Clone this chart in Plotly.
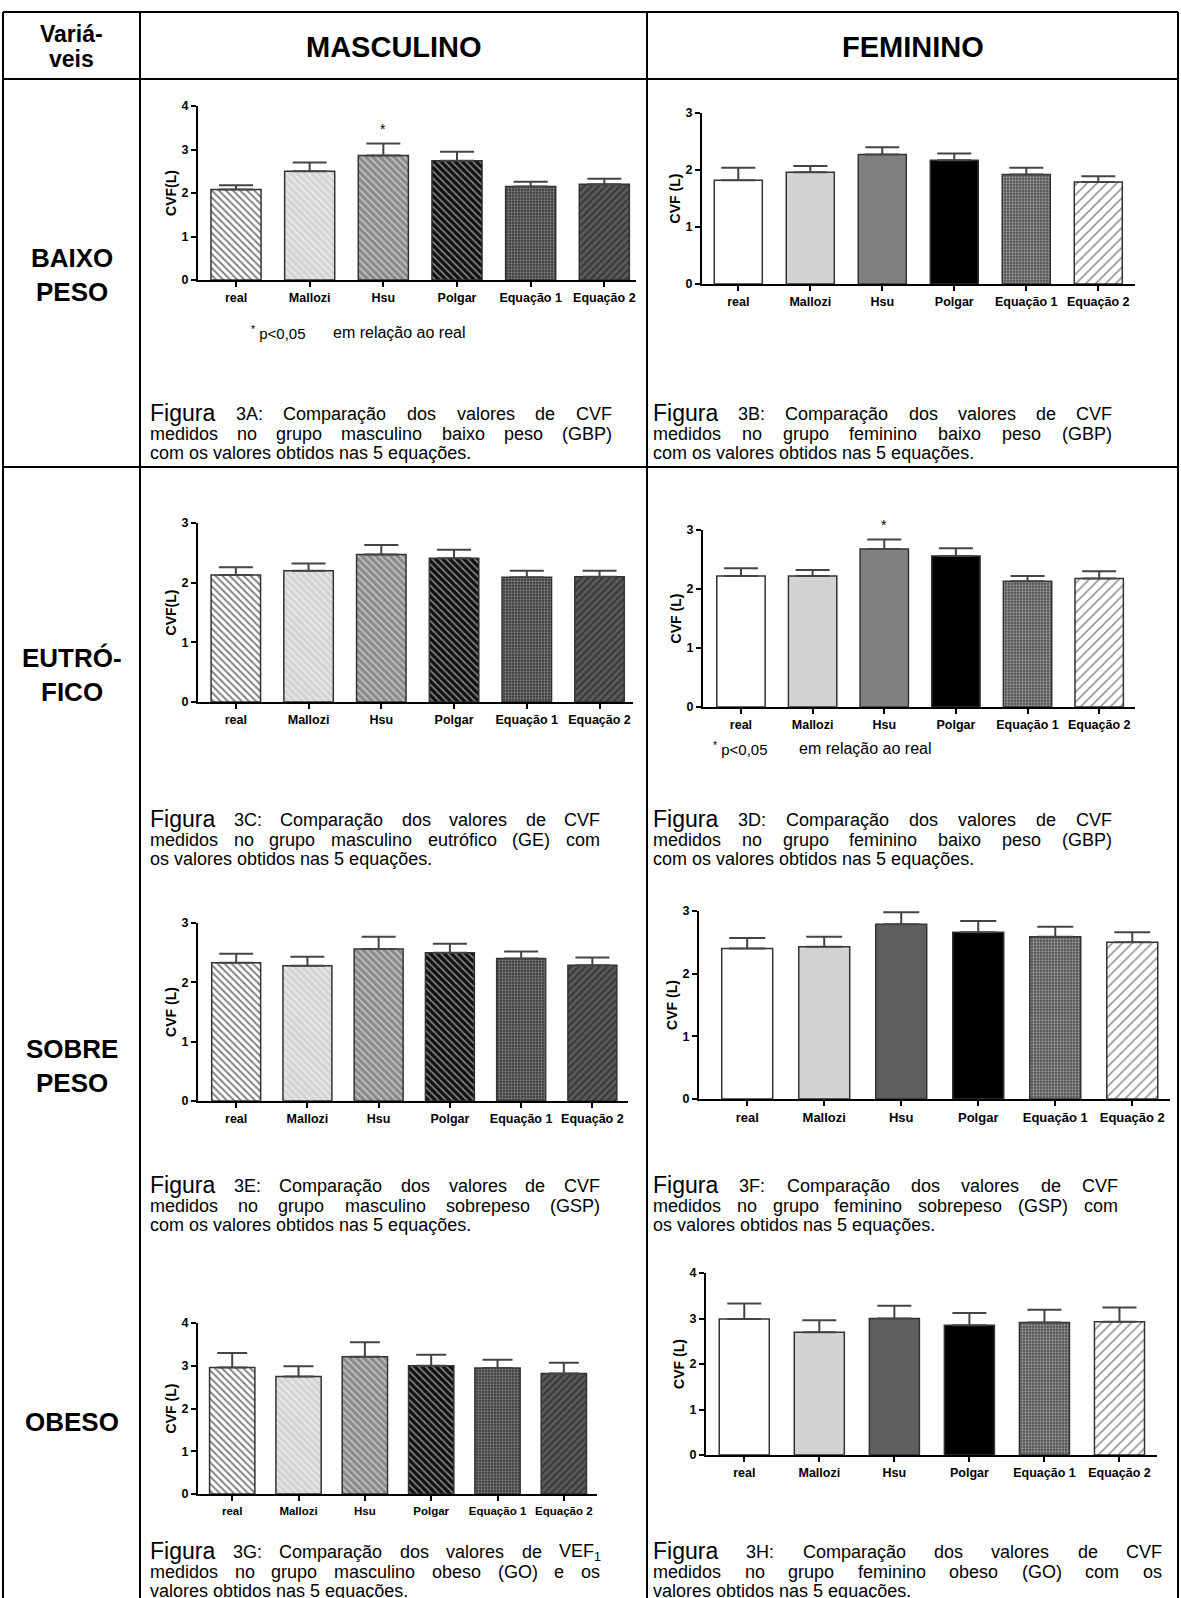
import plotly.graph_objects as go

W, H = 1181, 1598
FONT = "Liberation Sans, Arial, Helvetica, sans-serif"

# ---------------- data ----------------
categories = ["real", "Mallozi", "Hsu", "Polgar", "Equação 1", "Equação 2"]

cvf_3a = [2.08, 2.50, 2.86, 2.74, 2.15, 2.20]
err_3a = [0.10, 0.20, 0.28, 0.21, 0.11, 0.13]
cvf_3b = [1.82, 1.96, 2.27, 2.17, 1.92, 1.79]
err_3b = [0.22, 0.11, 0.13, 0.12, 0.12, 0.10]
cvf_3c = [2.13, 2.20, 2.47, 2.41, 2.09, 2.10]
err_3c = [0.13, 0.12, 0.16, 0.14, 0.11, 0.10]
cvf_3d = [2.22, 2.22, 2.68, 2.56, 2.13, 2.18]
err_3d = [0.13, 0.10, 0.16, 0.13, 0.09, 0.12]
cvf_3e = [2.33, 2.28, 2.56, 2.50, 2.40, 2.29]
err_3e = [0.15, 0.15, 0.21, 0.15, 0.12, 0.13]
cvf_3f = [2.40, 2.43, 2.79, 2.66, 2.59, 2.50]
err_3f = [0.17, 0.16, 0.19, 0.18, 0.16, 0.16]
cvf_3g = [2.96, 2.75, 3.21, 3.00, 2.95, 2.82]
err_3g = [0.34, 0.24, 0.34, 0.26, 0.19, 0.25]
cvf_3h = [2.99, 2.70, 3.00, 2.85, 2.91, 2.93]
err_3h = [0.34, 0.26, 0.28, 0.27, 0.28, 0.31]

ticks_0_4 = [0, 1, 2, 3, 4]
ticks_0_3 = [0, 1, 2, 3]

header_variables = ["Variá-", "veis"]
column_headers = ["MASCULINO", "FEMININO"]
row_labels = [["BAIXO", "PESO"], ["EUTRÓ-", "FICO"], ["SOBRE", "PESO"], ["OBESO"]]
note_star = "<sup>*</sup> p&lt;0,05"
note_text = "em relação ao real"

captions = {
    "3A": ["Figura 3A: Comparação dos valores de CVF",
           "medidos no grupo masculino baixo peso (GBP)",
           "com os valores obtidos nas 5 equações."],
    "3B": ["Figura 3B: Comparação dos valores de CVF",
           "medidos no grupo feminino baixo peso (GBP)",
           "com os valores obtidos nas 5 equações."],
    "3C": ["Figura 3C: Comparação dos valores de CVF",
           "medidos no grupo masculino eutrófico (GE) com",
           "os valores obtidos nas 5 equações."],
    "3D": ["Figura 3D: Comparação dos valores de CVF",
           "medidos no grupo feminino baixo peso (GBP)",
           "com os valores obtidos nas 5 equações."],
    "3E": ["Figura 3E: Comparação dos valores de CVF",
           "medidos no grupo masculino sobrepeso (GSP)",
           "com os valores obtidos nas 5 equações."],
    "3F": ["Figura 3F: Comparação dos valores de CVF",
           "medidos no grupo feminino sobrepeso (GSP) com",
           "os valores obtidos nas 5 equações."],
    "3G": ["Figura 3G: Comparação dos valores de VEF₁",
           "medidos no grupo masculino obeso (GO) e os",
           "valores obtidos nas 5 equações."],
    "3H": ["Figura 3H: Comparação dos valores de CVF",
           "medidos no grupo feminino obeso (GO) com os",
           "valores obtidos nas 5 equações."],
}

# ---------------- styles (per bar: shape, background, foreground, size, solidity) ----------------
male_style = [
    ("\\", "#ffffff", "#000000", 5, 0.38),
    ("\\", "#d4d4d4", "#ffffff", 5, 0.32),
    ("\\", "#8a8a8a", "#ffffff", 5, 0.32),
    ("\\", "#111111", "#ffffff", 5, 0.32),
    (".", "#3a3a3a", "#c4c4c4", 3, 0.45),
    ("/", "#5a5a5a", "#151515", 5, 0.40),
]


def female_style(hsu):
    return [
        ("", "#ffffff", "#000000", 6, 0.3),
        ("", "#d3d3d3", "#000000", 6, 0.3),
        ("", hsu, "#000000", 6, 0.3),
        ("", "#000000", "#000000", 6, 0.3),
        (".", "#4e4e4e", "#e4e4e4", 3, 0.45),
        ("/", "#ffffff", "#111111", 7, 0.22),
    ]


# panel layout (pixel geometry of each plot area)
panels = [
    dict(key="3A", y=cvf_3a, e=err_3a, st=male_style, px=(198, 636), py=(106, 280),
         ticks=ticks_0_4, xr=(-0.516, 5.43), bw=0.68, yt="CVF(L)", cap=17, fs=12.5, star=True),
    dict(key="3B", y=cvf_3b, e=err_3b, st=female_style("#808080"), px=(702, 1135), py=(113, 284),
         ticks=ticks_0_3, xr=(-0.504, 5.51), bw=0.667, yt="CVF (L)", cap=17, fs=12.5, star=False),
    dict(key="3C", y=cvf_3c, e=err_3c, st=male_style, px=(198, 633), py=(523, 702),
         ticks=ticks_0_3, xr=(-0.52, 5.46), bw=0.68, yt="CVF(L)", cap=17, fs=12.5, star=False),
    dict(key="3D", y=cvf_3d, e=err_3d, st=female_style("#808080"), px=(703, 1135), py=(530, 707),
         ticks=ticks_0_3, xr=(-0.53, 5.5), bw=0.675, yt="CVF (L)", cap=17, fs=12.5, star=True),
    dict(key="3E", y=cvf_3e, e=err_3e, st=male_style, px=(198, 628), py=(923, 1101),
         ticks=ticks_0_3, xr=(-0.536, 5.5), bw=0.687, yt="CVF (L)", cap=17, fs=12.5, star=False),
    dict(key="3F", y=cvf_3f, e=err_3f, st=female_style("#5e5e5e"), px=(699, 1170), py=(911, 1099),
         ticks=ticks_0_3, xr=(-0.626, 5.49), bw=0.662, yt="CVF (L)", cap=18, fs=13, star=False),
    dict(key="3G", y=cvf_3g, e=err_3g, st=male_style, px=(198, 597), py=(1323, 1494),
         ticks=ticks_0_4, xr=(-0.516, 5.5), bw=0.683, yt="CVF (L)", cap=15, fs=11.5, star=False),
    dict(key="3H", y=cvf_3h, e=err_3h, st=female_style("#5e5e5e"), px=(706, 1157), py=(1273, 1455),
         ticks=ticks_0_4, xr=(-0.51, 5.5), bw=0.667, yt="CVF (L)", cap=17, fs=12.5, star=False),
]

# captions geometry: key -> (x_left, x_right, y_first_line)
caption_geom = {
    "3A": (150, 612, 414), "3B": (653, 1112, 414),
    "3C": (150, 600, 820), "3D": (653, 1112, 820),
    "3E": (150, 600, 1186), "3F": (653, 1118, 1186),
    "3G": (150, 600, 1552), "3H": (653, 1162, 1552),
}
notes_geom = {"3A": (250, 332, 332), "3D": (712, 798, 748)}


def PX(x):
    return x / W


def PY(y):
    return 1 - y / H


fig = go.Figure()
layout = dict(
    width=W, height=H, margin=dict(l=0, r=0, t=0, b=0),
    template="none", paper_bgcolor="white", plot_bgcolor="white",
    showlegend=False, font=dict(family=FONT, color="black"), barmode="overlay",
)
annotations = []
shapes = []

for i, p in enumerate(panels, start=1):
    xa = "x" if i == 1 else f"x{i}"
    ya = "y" if i == 1 else f"y{i}"
    for j, cat in enumerate(categories):
        shape, bg, fg, sz, sol = p["st"][j]
        pattern = dict(shape=shape, fgcolor=fg, size=sz, solidity=sol, fillmode="overlay") if shape else dict(shape="")
        fig.add_trace(go.Bar(
            x=[cat], y=[p["y"][j]], width=p["bw"], xaxis=xa, yaxis=ya,
            marker=dict(color=bg, line=dict(color="#333333", width=1.5), pattern=pattern),
            error_y=dict(type="data", symmetric=False, array=[p["e"][j]], arrayminus=[0],
                         color="#444444", thickness=2, width=p["cap"]),
            cliponaxis=False, hoverinfo="skip", showlegend=False,
        ))
    x0, x1 = p["px"]
    ytop, ybot = p["py"]
    layout["xaxis" if i == 1 else f"xaxis{i}"] = dict(
        domain=[PX(x0), PX(x1)], anchor=ya, type="category", range=list(p["xr"]),
        categoryorder="array", categoryarray=categories,
        showline=True, linecolor="black", linewidth=2, mirror=False,
        ticks="outside", ticklen=5, tickwidth=1.5, tickcolor="black",
        tickfont=dict(family=FONT, size=p["fs"], color="black", weight="bold"),
        showgrid=False, zeroline=False, automargin=False, fixedrange=True,
    )
    layout["yaxis" if i == 1 else f"yaxis{i}"] = dict(
        domain=[PY(ybot), PY(ytop)], anchor=xa, range=[0, p["ticks"][-1]],
        tickvals=p["ticks"], showline=True, linecolor="black", linewidth=2,
        ticks="outside", ticklen=5, tickwidth=2, tickcolor="black",
        tickfont=dict(family=FONT, size=12.5, color="black", weight="bold"),
        title=dict(text=p["yt"], font=dict(family=FONT, size=14, color="black", weight="bold"), standoff=2),
        showgrid=False, zeroline=False, automargin=False, fixedrange=True,
    )
    if p["star"]:
        annotations.append(dict(
            xref=xa, yref=ya, x=categories[2], y=p["y"][2] + p["e"][2], yanchor="bottom",
            yshift=4, text="*", showarrow=False, font=dict(family=FONT, size=14, color="black"),
        ))

# significance notes
for key, (xs, xt, yc) in notes_geom.items():
    annotations.append(dict(xref="paper", yref="paper", x=PX(xs), y=PY(yc), xanchor="left",
                            yanchor="middle", text=note_star, showarrow=False, borderpad=0,
                            font=dict(family=FONT, size=15, color="black")))
    annotations.append(dict(xref="paper", yref="paper", x=PX(xt), y=PY(yc), xanchor="left",
                            yanchor="middle", text=note_text, showarrow=False, borderpad=0,
                            font=dict(family=FONT, size=16, color="black")))

# ---- caption text, justified like the original ----
CHAR_W = {' ': 278, 'a': 556, 'b': 556, 'c': 500, 'd': 556, 'e': 556, 'f': 278, 'g': 556,
          'h': 556, 'i': 222, 'j': 222, 'k': 500, 'l': 222, 'm': 833, 'n': 556, 'o': 556,
          'p': 556, 'q': 556, 'r': 333, 's': 500, 't': 278, 'u': 556, 'v': 500, 'w': 722,
          'x': 500, 'y': 500, 'z': 500, 'A': 667, 'B': 667, 'C': 722, 'D': 722, 'E': 667,
          'F': 611, 'G': 778, 'H': 722, 'I': 278, 'L': 556, 'M': 833, 'N': 722, 'O': 778,
          'P': 667, 'R': 722, 'S': 667, 'T': 611, 'U': 722, 'V': 667, '(': 333, ')': 333,
          ':': 278, '.': 278, ',': 278, 'ç': 500, 'ã': 556, 'õ': 556, 'é': 556, 'ó': 556,
          'á': 556, '₁': 330}
CAP_SIZE = 18
CAP_BIG = 23
LINE_GAP = 19


def tw(s, size):
    return sum(CHAR_W.get(c, 556) for c in s) * size / 1000.0


def fmt(s):
    return s.replace("₁", "<sub>1</sub>")


for key, lines in captions.items():
    xl, xr, y0 = caption_geom[key]
    for li, line in enumerate(lines):
        yc = y0 + li * LINE_GAP + (0 if li == 0 else 1)
        if li < len(lines) - 1:
            words = line.split(" ")
            sizes = [CAP_BIG if (li == 0 and wi == 0) else CAP_SIZE for wi in range(len(words))]
            widths = [tw(w, s) for w, s in zip(words, sizes)]
            gap = (xr - xl - sum(widths)) / (len(words) - 1)
            x = xl
            for w, s, wd in zip(words, sizes, widths):
                annotations.append(dict(
                    xref="paper", yref="paper", x=PX(x), y=PY(yc), xanchor="left", yanchor="middle",
                    text=fmt(w), showarrow=False, borderpad=0, borderwidth=0,
                    yshift=1.5 if s == CAP_BIG else 0,
                    font=dict(family=FONT, size=s, color="black")))
                x += wd + gap
        else:
            annotations.append(dict(
                xref="paper", yref="paper", x=PX(xl), y=PY(yc), xanchor="left", yanchor="middle",
                text=fmt(line), showarrow=False, borderpad=0, borderwidth=0,
                font=dict(family=FONT, size=CAP_SIZE, color="black")))

# ---- table frame ----
TX = [3, 140, 647, 1178]
T_TOP, T_HEAD, T_ROW1, T_BOT = 12, 79, 467, 1610
LW = 2
for x in TX:
    shapes.append(dict(type="line", xref="paper", yref="paper", x0=PX(x), x1=PX(x),
                       y0=PY(T_TOP), y1=PY(T_BOT), line=dict(color="black", width=LW)))
for y in (T_TOP, T_HEAD, T_ROW1):
    shapes.append(dict(type="line", xref="paper", yref="paper", x0=PX(TX[0]), x1=PX(TX[-1]),
                       y0=PY(y), y1=PY(y), line=dict(color="black", width=LW)))

# header texts
for txt, yc in zip(header_variables, (34, 59)):
    annotations.append(dict(xref="paper", yref="paper", x=PX((TX[0] + TX[1]) / 2), y=PY(yc),
                            xanchor="center", yanchor="middle", text=txt, showarrow=False,
                            font=dict(family=FONT, size=23, color="black", weight="bold")))
for txt, (a, b) in zip(column_headers, ((TX[1], TX[2]), (TX[2], TX[3]))):
    annotations.append(dict(xref="paper", yref="paper", x=PX((a + b) / 2), y=PY(47),
                            xanchor="center", yanchor="middle", text=txt, showarrow=False,
                            font=dict(family=FONT, size=29, color="black", weight="bold")))
row_centers = [275, 675, 1066, 1422]
for lab, yc in zip(row_labels, row_centers):
    n = len(lab)
    for k, t in enumerate(lab):
        yy = yc + (k - (n - 1) / 2) * 34
        annotations.append(dict(xref="paper", yref="paper", x=PX((TX[0] + TX[1]) / 2), y=PY(yy),
                                xanchor="center", yanchor="middle", text=t, showarrow=False,
                                font=dict(family=FONT, size=26, color="black", weight="bold")))

layout["annotations"] = annotations
layout["shapes"] = shapes
fig.update_layout(**layout)

fig.write_html("out.html", config={"displayModeBar": False},
               post_script="document.body.style.margin='0';document.body.style.overflow='hidden';")
